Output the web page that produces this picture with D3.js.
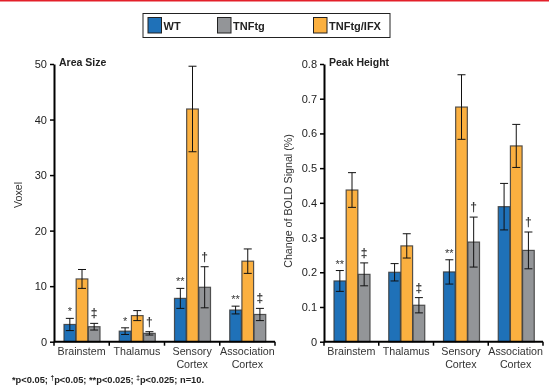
<!DOCTYPE html>
<html><head><meta charset="utf-8">
<script src="https://cdn.jsdelivr.net/npm/d3@7"></script>
<style>
body{margin:0;background:#fff;}
text{font-family:"Liberation Sans",Arial,sans-serif;}
svg{will-change:transform;}
</style></head>
<body><svg id="c" width="549" height="387"></svg>
<script>
const categories = ["Brainstem","Thalamus","Sensory\nCortex","Association\nCortex"];
const seriesNames = ["WT","TNFtg/IFX","TNFtg"];
const legendOrder = ["WT","TNFtg","TNFtg/IFX"];
const colors = {"WT":"#1f71b8","TNFtg":"#939598","TNFtg/IFX":"#fbb040"};

// Area Size (voxel)
const areaWT = [3.1, 1.9, 7.8, 5.7];
const areaWTerr = [1.1, 0.6, 1.8, 0.7];
const areaIFX = [11.3, 4.7, 41.9, 14.5];
const areaIFXerr = [1.7, 0.9, 7.7, 2.2];
const areaTG = [2.7, 1.5, 9.8, 4.9];
const areaTGerr = [0.6, 0.3, 3.7, 1.1];
const areaMarksWT = ["*","*","**","**"];
const areaMarksTG = ["‡","†","†","‡"];
const areaTicks = [0,10,20,30,40,50];

// Peak Height (% BOLD change)
const peakWT = [0.175, 0.200, 0.201, 0.389];
const peakWTerr = [0.030, 0.025, 0.035, 0.067];
const peakIFX = [0.437, 0.276, 0.676, 0.564];
const peakIFXerr = [0.050, 0.035, 0.093, 0.062];
const peakTG = [0.194, 0.105, 0.287, 0.263];
const peakTGerr = [0.033, 0.022, 0.072, 0.053];
const peakMarksWT = ["**","","**",""];
const peakMarksTG = ["‡","‡","†","†"];
const peakTicks = [0,0.1,0.2,0.3,0.4,0.5,0.6,0.7,0.8];

const svg = d3.select("#c");

svg.append("rect").attr("x",0).attr("y",0).attr("width",549).attr("height",1.5).attr("fill","#e3202a");

const lg = svg.append("g");
lg.append("rect").attr("x",143).attr("y",13.5).attr("width",247).attr("height",24).attr("fill","#fff").attr("stroke","#222").attr("stroke-width",1);
const legX = {"WT":148,"TNFtg":217.5,"TNFtg/IFX":313.5};
legendOrder.forEach(n=>{
  lg.append("rect").attr("x",legX[n]).attr("y",17.5).attr("width",13.5).attr("height",15.5).attr("fill",colors[n]).attr("stroke","#222").attr("stroke-width",1);
  lg.append("text").attr("x",legX[n]+15.5).attr("y",30).attr("font-size",11).attr("font-weight","bold").attr("fill","#222").text(n);
});

function panel(opts){
  const {x0,x1,y0,y1,maxV,ticks,fmt,title,ylabel,ylabX,ylabY,vals,errs,marks} = opts;
  const g = svg.append("g");
  const x = d3.scaleBand().domain(categories).range([x0,x1]).padding(0);
  const xi = d3.scaleBand().domain(seriesNames).range([10,46]).paddingInner(0.04);
  const y = d3.scaleLinear().domain([0,maxV]).range([y0,y1]);

  categories.forEach((c,i)=>{
    seriesNames.forEach((s,j)=>{
      const v = vals[s][i], e = errs[s][i];
      const bx = x(c)+xi(s), bw = xi.bandwidth();
      g.append("rect").attr("x",bx).attr("y",y(v)).attr("width",bw).attr("height",y(0)-y(v))
        .attr("fill",colors[s]).attr("stroke","#3a3a3a").attr("stroke-opacity",0.85).attr("stroke-width",1.2);
      const cx = bx+bw/2;
      g.append("line").attr("x1",cx).attr("x2",cx).attr("y1",y(v+e)).attr("y2",y(v-e)).attr("stroke","#111").attr("stroke-width",1);
      [v+e,v-e].forEach(t=>g.append("line").attr("x1",cx-4).attr("x2",cx+4).attr("y1",y(t)).attr("y2",y(t)).attr("stroke","#111").attr("stroke-width",1));
      const m = marks[s] ? marks[s][i] : "";
      if(m){
        const isStar = m.indexOf("*")>=0;
        g.append("text").attr("x",cx).attr("y",y(v+e)-(isStar?3:6)).attr("text-anchor","middle")
          .attr("font-weight",isStar?"normal":"bold")
          .attr("font-size",isStar?11:12).attr("fill","#333").attr("opacity",0.99).text(m);
      }
    });
  });

  const ya = d3.axisLeft(y).tickValues(ticks).tickSize(4).tickSizeOuter(0).tickFormat(fmt);
  const yg = g.append("g").attr("transform",`translate(${x0},0)`).call(ya);
  yg.select(".domain").attr("stroke","#000").attr("stroke-width",2);
  yg.selectAll(".tick line").attr("stroke","#000").attr("stroke-width",1.5);
  yg.selectAll(".tick text").attr("font-size",11).attr("fill","#222").attr("font-family","Liberation Sans, Arial, sans-serif").attr("x",-7);

  const xg = g.append("g").attr("transform",`translate(0,${y0})`);
  xg.append("line").attr("x1",x0).attr("x2",x1).attr("y1",0).attr("y2",0).attr("stroke","#000").attr("stroke-width",2);
  const bounds = categories.map(c=>x(c)).concat([x1]);
  bounds.forEach(b=>xg.append("line").attr("x1",b).attr("x2",b).attr("y1",0).attr("y2",4).attr("stroke","#000").attr("stroke-width",1.5));
  categories.forEach(c=>{
    const lines = c.split("\n");
    const t = xg.append("text").attr("text-anchor","middle").attr("font-size",10.7).attr("fill","#333");
    lines.forEach((l,k)=>t.append("tspan").attr("x",x(c)+x.bandwidth()/2).attr("y",13.5+k*13).text(l));
  });

  g.append("text").attr("x",x0+5).attr("y",y1+2).attr("font-size",10.5).attr("font-weight","bold").attr("fill","#222").text(title);
  g.append("text").attr("transform",`translate(${ylabX},${ylabY}) rotate(-90)`).attr("text-anchor","middle")
    .attr("font-size",10.7).attr("fill","#333").text(ylabel);
}

panel({x0:54,x1:275,y0:341.7,y1:64,maxV:50,ticks:areaTicks,fmt:d3.format("d"),title:"Area Size",ylabel:"Voxel",
  ylabX:22,ylabY:195,
  vals:{"WT":areaWT,"TNFtg/IFX":areaIFX,"TNFtg":areaTG},
  errs:{"WT":areaWTerr,"TNFtg/IFX":areaIFXerr,"TNFtg":areaTGerr},
  marks:{"WT":areaMarksWT,"TNFtg":areaMarksTG}});

panel({x0:324,x1:543,y0:341.7,y1:64,maxV:0.8,ticks:peakTicks,fmt:d=>d===0?"0":d3.format(".1f")(d),title:"Peak Height",
  ylabel:"Change of BOLD Signal (%)",ylabX:292,ylabY:201,
  vals:{"WT":peakWT,"TNFtg/IFX":peakIFX,"TNFtg":peakTG},
  errs:{"WT":peakWTerr,"TNFtg/IFX":peakIFXerr,"TNFtg":peakTGerr},
  marks:{"WT":peakMarksWT,"TNFtg":peakMarksTG}});

const fn = svg.append("text").attr("x",12).attr("y",383).attr("font-size",9.3).attr("font-weight","bold").attr("fill","#222");
fn.append("tspan").text("*p<0.05; ");
fn.append("tspan").attr("font-size",6.5).attr("dy",-3).text("†");
fn.append("tspan").attr("dy",3).text("p<0.05; **p<0.025; ");
fn.append("tspan").attr("font-size",6.5).attr("dy",-3).text("‡");
fn.append("tspan").attr("dy",3).text("p<0.025; n=10.");
</script></body></html>
